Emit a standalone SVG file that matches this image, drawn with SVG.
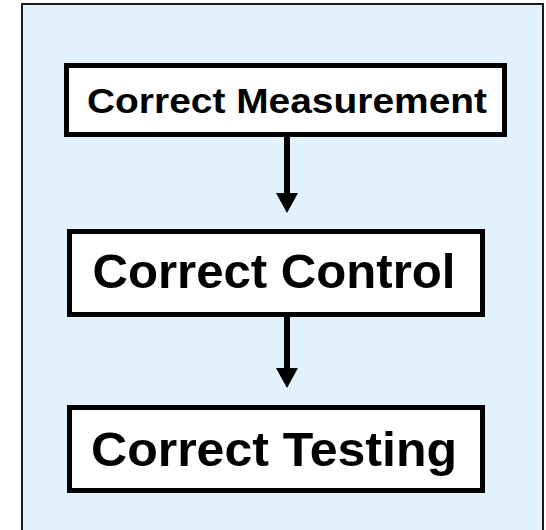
<svg xmlns="http://www.w3.org/2000/svg" width="546" height="530" viewBox="0 0 546 530">
<style>
.box{fill:#fff;stroke:#000;stroke-width:5}
.t{font-family:"Liberation Sans",Arial,sans-serif;font-weight:bold;fill:#000;text-anchor:middle}
.shaft{stroke:#000;stroke-width:6}
</style>
<defs>
<marker id="ah" markerUnits="userSpaceOnUse" markerWidth="22" markerHeight="22" refX="0" refY="11" orient="auto">
<path d="M0,0 L20,11 L0,22 Z" fill="#000"/>
</marker>
</defs>
<rect x="0" y="0" width="546" height="530" fill="#fff"/>
<rect x="22" y="4" width="521" height="540" fill="#E2F2FD" stroke="#1a1a1a" stroke-width="2"/>
<g id="connectors">
<line class="shaft" x1="287" y1="137" x2="287" y2="193" marker-end="url(#ah)"/>
<line class="shaft" x1="287" y1="317" x2="287" y2="368" marker-end="url(#ah)"/>
</g>
<g id="node-measurement">
<rect class="box" x="66.5" y="65.5" width="438" height="69"/>
<text class="t" x="287" y="113" font-size="35" textLength="400" lengthAdjust="spacingAndGlyphs">Correct Measurement</text>
</g>
<g id="node-control">
<rect class="box" x="69.5" y="231.5" width="413" height="83"/>
<text class="t" x="274" y="288" font-size="48" textLength="363" lengthAdjust="spacingAndGlyphs">Correct Control</text>
</g>
<g id="node-testing">
<rect class="box" x="69.5" y="407.5" width="413" height="83"/>
<text class="t" x="274" y="466" font-size="48" textLength="366" lengthAdjust="spacingAndGlyphs">Correct Testing</text>
</g>
</svg>
